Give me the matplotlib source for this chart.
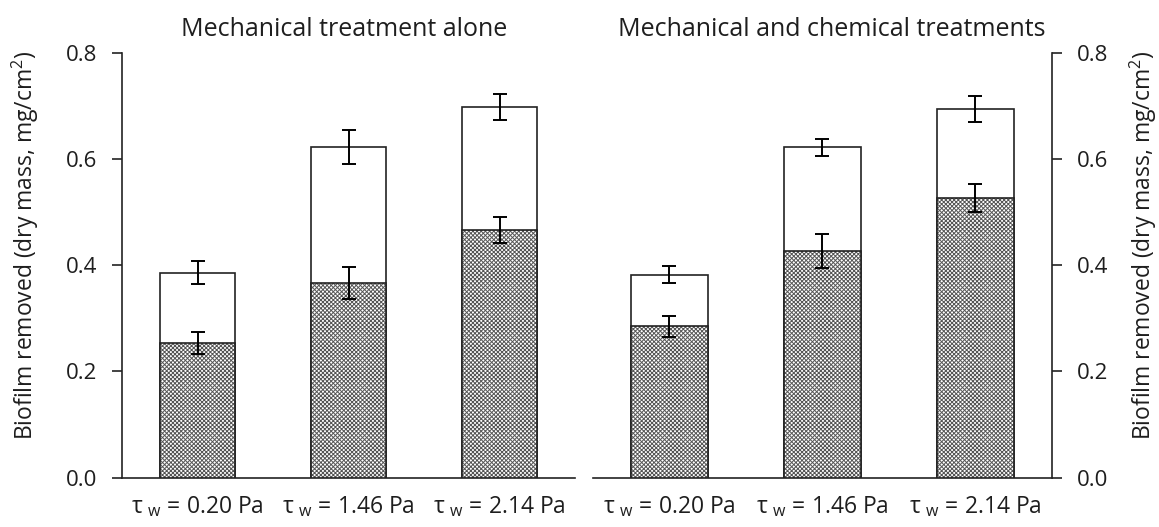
import numpy as np
import matplotlib
matplotlib.use("Agg")
import matplotlib.pyplot as plt

# ------------------------
# Data (mg/cm2, dry mass)
# ------------------------
shear_labels = ["0.20", "1.46", "2.14"]

mech_total = [0.386, 0.622, 0.698]
mech_total_err = [0.021, 0.032, 0.025]
mech_part = [0.253, 0.367, 0.466]
mech_part_err = [0.021, 0.030, 0.025]

chem_total = [0.382, 0.622, 0.694]
chem_total_err = [0.016, 0.016, 0.025]
chem_part = [0.285, 0.426, 0.527]
chem_part_err = [0.020, 0.032, 0.026]

titles = ["Mechanical treatment alone", "Mechanical and chemical treatments"]
ylabel = "Biofilm removed (dry mass, mg/cm$^{\\mathregular{2}}$)"

# ------------------------
# Style
# ------------------------
plt.rcParams['font.family'] = ['Open Sans', 'DejaVu Sans']
plt.rcParams['hatch.linewidth'] = 0.7
TEXT = '#1e1e1e'
LINE = '#222222'
BAR_W = 0.5


def draw_panel(ax, total, total_err, part, part_err, title, title_x, right=False):
    x = np.arange(len(total))
    # white bar = total removed, dotted bar drawn over it
    ax.bar(x, total, width=BAR_W, color='white', edgecolor=LINE, linewidth=1.2, zorder=2)
    ax.bar(x, part, width=BAR_W, color='white', edgecolor='#555555', linewidth=0,
           hatch='xxxxxxxx', zorder=3)
    ax.bar(x, part, width=BAR_W, color='none', edgecolor=LINE, linewidth=1.2, zorder=4)
    ax.errorbar(x, total, yerr=total_err, fmt='none', ecolor='black',
                elinewidth=1.4, capsize=5, capthick=1.4, zorder=5)
    ax.errorbar(x, part, yerr=part_err, fmt='none', ecolor='black',
                elinewidth=1.4, capsize=5, capthick=1.4, zorder=5)

    ax.set_xlim(-0.5, 2.5)
    ax.set_ylim(0, 0.8)
    ax.set_yticks(np.arange(0, 0.81, 0.2))
    ax.set_yticklabels([f"{v:.1f}" for v in np.arange(0, 0.81, 0.2)])
    ax.set_xticks(x)
    ax.set_xticklabels([f"τ $_{{\\mathregular{{w}}}}$ = {s} Pa" for s in shear_labels])
    ax.tick_params(axis='x', length=0, pad=12, labelsize=16.5, labelcolor=TEXT)
    ax.tick_params(axis='y', direction='out', length=7, width=1.2, color=LINE,
                   labelsize=16, labelcolor=TEXT, pad=11)

    ax.spines['top'].set_visible(False)
    for s in ('left', 'right', 'bottom'):
        ax.spines[s].set_linewidth(1.2)
        ax.spines[s].set_color(LINE)
    if right:
        ax.spines['left'].set_visible(False)
        ax.yaxis.tick_right()
        ax.yaxis.set_label_position('right')
        ax.set_ylabel(ylabel, fontsize=16.5, color=TEXT, rotation=90,
                      ha='center', va='center', rotation_mode='anchor')
        ax.yaxis.set_label_coords(1.200, 0.546)
    else:
        ax.spines['right'].set_visible(False)
        ax.set_ylabel(ylabel, fontsize=16.5, color=TEXT,
                      ha='center', va='center', rotation_mode='anchor')
        ax.yaxis.set_label_coords(-0.214, 0.546)

    ax.set_title(title, fontsize=18, color=TEXT, pad=12, x=title_x)


fig = plt.figure(figsize=(11.59, 5.27), dpi=100)
ax_mech = fig.add_axes([0.1053, 0.0939, 0.3909, 0.806])
ax_chem = fig.add_axes([0.5116, 0.0939, 0.396, 0.806])

draw_panel(ax_mech, mech_total, mech_total_err, mech_part, mech_part_err,
           titles[0], 0.490)
draw_panel(ax_chem, chem_total, chem_total_err, chem_part, chem_part_err,
           titles[1], 0.520, right=True)

fig.savefig("out.png", dpi=100)
